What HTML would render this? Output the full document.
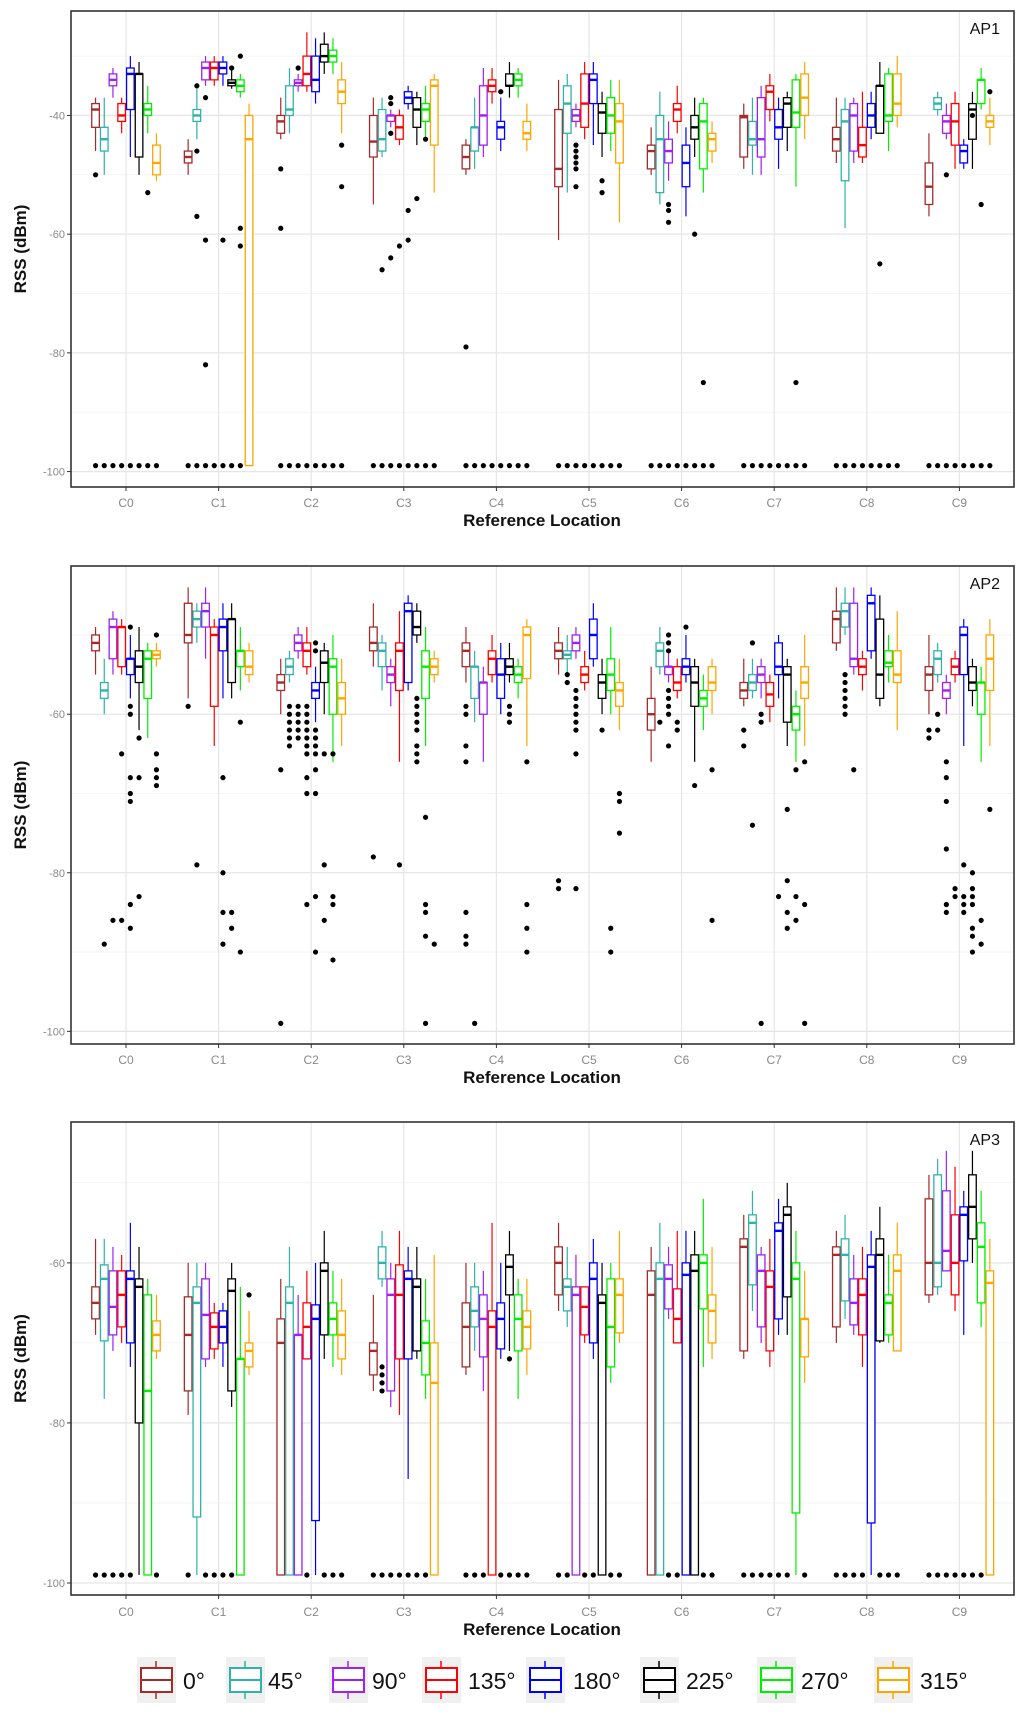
<!DOCTYPE html>
<html><head><meta charset="utf-8"><style>
html,body{margin:0;padding:0;background:#fff;}
svg{display:block;font-family:"Liberation Sans",sans-serif;}
</style></head><body>
<svg id="chart" width="1024" height="1712" viewBox="0 0 1024 1712" xmlns="http://www.w3.org/2000/svg"></svg>
<script>
const categories=["C0","C1","C2","C3","C4","C5","C6","C7","C8","C9"];
const angles=["0°","45°","90°","135°","180°","225°","270°","315°"];
const colors=["#a52a2a","#2fb3a8","#a020f0","#ff0000","#0000ff","#000000","#00ee00","#ffa500"];

// ---------- AP1 ----------
const ap1Hi=[[-37,-37,-32,-37,-30,-31,-35,-43],[-44,-35,-30,-30,-30,-32,-33,-38],[-37,-32,-33,-26,-27,-26,-27,-31],[-37,-37,-39,-39,-35,-36,-35,-33],[-44,-37,-32,-32,-37,-31,-32,-38],[-34,-33,-38,-31,-31,-36,-34,-34],[-42,-36,-41,-35,-42,-37,-37,-41],[-38,-37,-35,-33,-37,-36,-33,-31],[-37,-37,-37,-36,-36,-31,-32,-30],[-43,-36,-38,-36,-44,-36,-32,-37]];
const ap1Q3=[[-38,-42,-33,-38,-32,-33,-38,-45],[-46,-39,-31,-31,-31,-34,-34,-40],[-40,-35,-34,-30,-30,-28,-29,-34],[-40,-39,-40,-40,-36,-37,-38,-34],[-45,-42,-35,-34,-41,-33,-33,-41],[-39,-35,-39,-33,-33,-38,-37,-38],[-45,-40,-44,-38,-45,-40,-38,-43],[-40,-41,-37,-35,-39,-37,-34,-33],[-42,-39,-38,-42,-38,-35,-33,-33],[-48,-37,-40,-38,-45,-38,-34,-40]];
const ap1Med=[[-39,-44,-34,-40,-33,-33,-39,-48],[-47,-40,-32,-32,-32,-34.5,-35,-44],[-41,-39,-34.5,-33,-34,-30,-30,-36],[-44.4,-44,-40,-42,-37,-39,-39,-35],[-47,-42,-40,-35,-42,-35,-34,-43],[-49,-38,-40,-38,-34,-39.5,-40,-41],[-46,-44,-46,-39,-48,-42,-41,-44],[-40.3,-44,-44,-36,-42,-38,-39.5,-37],[-44,-41,-40,-45,-40,-35,-40,-38],[-52,-38,-41,-41,-46,-39,-34,-41]];
const ap1Q1=[[-42,-46,-35,-41,-39,-47,-40,-50],[-48,-41,-34,-34,-33,-35,-36,-99],[-43,-40,-35,-35,-36,-31,-31,-38],[-47,-46,-41,-44,-38,-42,-41,-45],[-49,-46,-45,-36,-44,-35,-35,-44],[-52,-43,-41,-42,-38,-43,-43,-48],[-49,-53,-48,-41,-52,-44,-49,-46],[-47,-45,-47,-39,-44,-42,-42,-40],[-46,-51,-46,-47,-42,-43,-41,-40],[-55,-39,-43,-45,-48,-44,-38,-42]];
const ap1Lo=[[-46,-50,-37,-43,-47,-50,-43,-51],[-50,-44,-35,-35,-35,-35.5,-37,-99],[-44,-43,-36,-36,-38,-33,-33,-43],[-55,-47,-42,-45,-39,-45,-44,-53],[-50,-49,-47,-38,-46,-37,-37,-46],[-61,-53,-42,-44,-45,-47,-46,-58],[-50,-55,-51,-43,-57,-47,-53,-48],[-49,-50,-50,-41,-49,-46,-52,-44],[-48,-59,-48,-48,-44,-43,-46,-42],[-57,-40,-44,-49,-49,-49,-39,-45]];
const ap1Out=[[[-50],[],[],[],[],[],[-53],[]],[[],[-35,-46,-57],[-37,-61,-82],[],[-61],[-32],[-30,-59,-62],[]],[[-49,-59],[],[-32],[],[],[],[],[-45,-52]],[[],[-66],[-37,-38,-43,-64],[-62],[-56,-61],[-54],[-44],[]],[[-79],[],[],[],[-36],[],[],[]],[[],[],[-45,-46,-47,-48,-49,-52],[],[],[-51,-53],[],[]],[[],[],[-55,-56,-58],[],[],[-60],[-85],[]],[[],[],[],[],[],[],[-85],[]],[[],[],[],[],[],[-65],[],[]],[[],[],[-50],[],[],[-40],[-55],[-36]]];
const ap1Floor=["11111111","11111110","11111111","11111111","11111111","11111111","11111111","11111111","11111111","11111111"];

// ---------- AP2 ----------
const ap2Hi=[[-49,-53,-47,-48,-50,-49,-51,-51],[-44,-46,-44,-48,-46,-46,-49,-51],[-53,-52,-49,-49,-54,-51,-50,-53],[-46,-50,-53,-47,-45,-46,-49,-52],[-49,-52,-54,-50,-51,-51,-53,-48],[-49,-50,-49,-52,-46,-53,-49,-53],[-54,-49,-52,-53,-50,-53,-55,-53],[-53,-53,-53,-55,-50,-53,-57,-50],[-44,-44,-44,-52,-44,-45,-50,-47],[-50,-51,-55,-52,-48,-53,-54,-48]];
const ap2Q3=[[-50,-56,-48,-49,-53,-52,-52,-52],[-46,-47,-46,-49,-48,-48,-52,-52],[-55,-53,-50,-51,-56,-52,-53,-56],[-49,-51,-54,-51,-46,-47,-52,-53],[-51,-54,-56,-52,-53,-53,-54,-49],[-51,-52,-50,-54,-48,-55,-53,-56],[-58,-51,-54,-54,-53,-54,-57,-54],[-56,-55,-54,-56,-51,-54,-59,-54],[-47,-46,-46,-53,-45,-48,-52,-52],[-54,-52,-56,-53,-49,-54,-56,-50]];
const ap2Med=[[-51,-57,-49,-49,-53,-54,-53,-52.5],[-50,-48,-47,-50,-49,-48,-52,-54],[-56,-54,-51,-52,-57,-53.5,-54,-58],[-51,-52,-55,-52,-47,-49,-54,-54],[-52,-54,-56,-53,-55,-54,-55,-50],[-52,-52.5,-51,-55,-50,-56,-55,-57],[-60,-52,-54,-56,-54,-56,-58,-56],[-57,-56,-55,-57.5,-54,-55,-60,-56],[-48,-47,-53,-54,-46,-55,-53.5,-55],[-55,-53,-57,-54,-50,-56,-56,-53]];
const ap2Q1=[[-52,-58,-53,-54,-55,-56,-58,-53],[-51,-49,-49,-59,-52,-56,-54,-55],[-57,-55,-52,-54,-58,-56,-60,-60],[-52,-54,-56,-57,-56,-50,-58,-55],[-54,-58,-60,-55,-58,-55,-56,-55.5],[-53,-53,-52,-56,-53,-58,-57,-59],[-62,-54,-55,-57,-55,-59,-59,-57],[-58,-57,-56,-59,-55,-61,-62,-58],[-51,-49,-54,-55,-52,-58,-54,-56],[-57,-55,-58,-55,-55,-57,-60,-57]];
const ap2Lo=[[-55,-60,-55,-55,-58,-62,-63,-54],[-58,-51,-53,-64,-58,-58,-57,-56],[-60,-56,-53,-55,-61,-60,-66,-64],[-54,-57,-59,-66,-57,-51,-64,-56],[-56,-61,-66,-56,-60,-56,-58,-64],[-55,-55,-53,-57,-54,-60,-60,-62],[-66,-55,-56,-58,-56,-66,-62,-60],[-59,-58,-58,-61,-58,-64,-66,-64],[-52,-50,-55,-57,-53,-59,-56,-62],[-60,-56,-60,-56,-64,-59,-66,-64]];
const ap2Out=[[[],[-89],[-86],[-65,-86],[-49,-59,-60,-68,-70,-71,-84,-87],[-63,-68,-83],[],[-50,-65,-67,-68,-69]],[[-59],[-79],[],[],[-68,-80,-85,-89],[-85,-87],[-61,-90],[]],[[-67,-99],[-59,-60,-61,-62,-63,-64],[-59,-60,-61,-62,-63],[-59,-60,-61,-62,-63,-64,-65,-68,-70,-84],[-51,-52,-62,-63,-64,-65,-67,-70,-83,-90],[-65,-79,-86],[-65,-83,-84,-91],[]],[[-78],[],[],[-79],[],[-58,-59,-60,-61,-62,-64,-65,-66],[-73,-84,-85,-88,-99],[-89]],[[-59,-60,-64,-66,-85,-88,-89],[-99],[],[],[],[-59,-60,-61],[],[-66,-84,-87,-90]],[[-81,-82],[-55,-56],[-57,-58,-59,-60,-61,-62,-65,-82],[],[],[-62],[-87,-90],[-70,-71,-75]],[[],[-61],[-50,-51,-52,-57,-58,-59,-60,-64],[-61,-62],[-49],[-69],[],[-67,-86]],[[-62,-64],[-51,-74],[-60,-61,-99],[],[-83],[-72,-81,-85,-87],[-67,-83,-86],[-66,-84,-99]],[[],[-55,-56,-57,-58,-59,-60],[-67],[],[],[],[],[]],[[-62,-63],[-60,-62],[-66,-68,-71,-77,-84,-85],[-82,-83],[-79,-83,-84,-85],[-80,-82,-83,-84,-87,-88,-90],[-86,-89],[-72]]];
const ap2Floor=["00000000","00000000","00000000","00000000","00000000","00000000","00000000","00000000","00000000","00000000"];

// ---------- AP3 ----------
const ap3Hi=[[-57,-57,-58,-59,-55,-58,-62,-64],[-60,-60,-60,-65,-65,-60,-63,-66],[-62,-58,-64,-61,-60,-56,-61,-62],[-64,-56,-60,-56,-58,-58,-62,-59],[-60,-60,-61,-55,-60,-56,-62,-62],[-55,-58,-59,-63,-57,-60,-60,-56],[-58,-55,-58,-56,-56,-56,-52,-58],[-54,-51,-58,-57,-52,-50,-56,-61],[-56,-54,-59,-58,-56,-53,-59,-55],[-49,-47,-46,-48,-51,-46,-51,-57]];
const ap3Q3=[[-63,-60.25,-61,-61,-61,-62,-64,-67.25],[-64.25,-63,-62,-66.25,-66,-62,-72,-70],[-67,-63,-69,-65,-65.25,-60,-65,-66],[-70,-58,-62,-60.25,-61,-62,-67.25,-70],[-65,-63,-64,-66,-65,-59,-64,-66],[-58,-62,-63,-63,-60,-64,-62,-62],[-61,-60,-60.25,-63.25,-60,-59,-59,-64],[-57,-54,-59,-61,-55,-53,-60,-67],[-58,-57,-62,-62,-59,-57,-64,-59],[-52,-49,-51,-54,-53,-49,-55,-61]];
const ap3Med=[[-65,-62,-65.5,-64,-62,-63,-76,-69],[-69,-65,-66.5,-68,-68,-63.5,-72,-71],[-70,-65,-69,-68,-67,-61,-67,-69],[-71,-60,-64,-64,-62,-63,-70,-75],[-68,-66,-67,-68,-67,-60.5,-67,-68],[-60,-63,-64,-65.5,-62,-65,-68,-64],[-64,-62,-62,-67,-61.5,-61,-60,-66],[-58,-55,-61,-63,-56,-54,-62,-67],[-59,-59,-65,-64,-60.5,-59,-65,-61],[-60,-60,-58.5,-60,-54,-53,-58,-62.5]];
const ap3Q1=[[-67,-69.75,-69,-68,-70,-80,-99,-71],[-76,-91.75,-72,-70.75,-70,-76,-99,-73],[-99,-99,-99,-72,-92.2,-69,-69,-72],[-74,-62,-76,-72,-72,-71,-74,-99],[-73,-68,-71.75,-99,-70.75,-64,-71,-70.75],[-64,-66,-99,-69,-70,-99,-73,-68.75],[-99,-99,-65.75,-70,-99,-99,-65.75,-70],[-71,-62.75,-68,-71,-67,-64.25,-91.25,-71.75],[-68,-64.75,-67.75,-69,-92.5,-69.75,-69,-71],[-64,-63,-61,-64,-59.75,-57,-65,-99]];
const ap3Lo=[[-69,-77,-71,-70,-73,-99,-99,-72],[-79,-99,-73,-72,-73,-78,-99,-74],[-99,-99,-99,-72,-99,-72,-73,-74],[-76,-63,-78,-79,-87,-72,-77,-99],[-74,-71,-76,-99,-72,-71,-77,-74],[-66,-68,-99,-70,-72,-99,-75,-70],[-99,-99,-67,-70,-99,-99,-73,-72],[-72,-66,-70,-73,-69,-69,-99,-75],[-70,-67,-69,-73,-99,-70,-70,-71],[-65,-64,-61,-66,-69,-60,-68,-99]];
const ap3Out=[[[],[],[],[],[],[],[],[]],[[],[],[],[],[],[],[],[-64]],[[],[],[],[],[],[],[],[]],[[],[-73,-74,-75,-76],[],[],[],[],[],[]],[[],[],[],[],[],[-72],[],[]],[[],[],[],[],[],[],[],[]],[[],[],[],[],[],[],[],[]],[[],[],[],[],[],[],[],[]],[[],[],[],[],[],[],[],[]],[[],[],[],[],[],[],[],[]]];
const ap3Floor=["11111001","10111100","00010111","11111110","11101111","11011011","00110011","11111101","11110111","11111110"];

const yTicks1=[-40,-60,-80,-100];
const yTicks23=[-60,-80,-100];

const svg=document.getElementById('chart');
const NS="http://www.w3.org/2000/svg";
function mk(tag,attrs,parent){const e=document.createElementNS(NS,tag);for(const k in attrs)e.setAttribute(k,attrs[k]);(parent||svg).appendChild(e);return e;}

const X0=71,X1=1014,C0X=126,STEP=92.6,DODGE=8.7,BW=7.6;
function xScale(i,j){return C0X+i*STEP+(j-3.5)*DODGE;}

const panels=[
 {name:"AP1",top:11,bottom:487,dmax:-22.4,dmin:-102.6,ticks:yTicks1,minor:[-30,-50,-70,-90],hi:ap1Hi,q3:ap1Q3,med:ap1Med,q1:ap1Q1,lo:ap1Lo,out:ap1Out,floor:ap1Floor,xl:503,xt:520},
 {name:"AP2",top:566,bottom:1044,dmax:-41.3,dmin:-101.6,ticks:yTicks23,minor:[-50,-70,-90],hi:ap2Hi,q3:ap2Q3,med:ap2Med,q1:ap2Q1,lo:ap2Lo,out:ap2Out,floor:ap2Floor,xl:1060,xt:1077},
 {name:"AP3",top:1122,bottom:1595,dmax:-42.4,dmin:-101.5,ticks:yTicks23,minor:[-50,-70,-90],hi:ap3Hi,q3:ap3Q3,med:ap3Med,q1:ap3Q1,lo:ap3Lo,out:ap3Out,floor:ap3Floor,xl:1612,xt:1629}
];

panels.forEach((p,pi)=>{
  const ys=v=>p.top+(p.dmax-v)/(p.dmax-p.dmin)*(p.bottom-p.top);
  const g=mk('g',{});
  
  
  mk('rect',{x:X0,y:p.top,width:X1-X0,height:p.bottom-p.top,fill:'#fff'},g);
  p.minor.forEach(v=>{mk('line',{x1:X0,x2:X1,y1:ys(v),y2:ys(v),stroke:'#f2f2f2','stroke-width':0.8},g);});
  p.ticks.forEach(v=>{
    mk('line',{x1:X0,x2:X1,y1:ys(v),y2:ys(v),stroke:'#e6e6e6','stroke-width':1.3},g);
    mk('line',{x1:X0-4,x2:X0,y1:ys(v),y2:ys(v),stroke:'#333','stroke-width':1},g);
    const t=mk('text',{x:X0-6,y:ys(v)+4,'text-anchor':'end','font-size':11,fill:'#888'},g);
    t.textContent=v;
    
    
  });
  categories.forEach((c,i)=>{
    const cx=C0X+i*STEP;
    mk('line',{x1:cx,x2:cx,y1:p.top,y2:p.bottom,stroke:'#e6e6e6','stroke-width':1.2},g);
    mk('line',{x1:cx,x2:cx,y1:p.bottom,y2:p.bottom+4,stroke:'#333','stroke-width':1},g);
    const t=mk('text',{x:cx,y:p.xl+4,'text-anchor':'middle','font-size':12,fill:'#888'},g);
    t.textContent=c;
    
    
  });
  categories.forEach((c,i)=>{
    angles.forEach((a,j)=>{
      const x=xScale(i,j),col=colors[j];
      const bg=mk('g',{},g);
      
      
      const hi=p.hi[i][j],q3=p.q3[i][j],md=p.med[i][j],q1=p.q1[i][j],lo=p.lo[i][j];
      mk('line',{x1:x,x2:x,y1:ys(hi),y2:ys(q3),stroke:col,'stroke-width':1.2},bg);
      mk('line',{x1:x,x2:x,y1:ys(q1),y2:ys(lo),stroke:col,'stroke-width':1.2},bg);
      mk('rect',{x:x-BW/2,y:ys(q3),width:BW,height:Math.max(0.5,ys(q1)-ys(q3)),fill:'#fff',stroke:col,'stroke-width':1.3},bg);
      mk('line',{x1:x-BW/2,x2:x+BW/2,y1:ys(md),y2:ys(md),stroke:col,'stroke-width':2.4},bg);
      const outs=p.out[i][j].slice();
      if(p.floor[i][j]==='1')outs.push(-99);
      outs.forEach(v=>{
        const d=mk('circle',{cx:x,cy:ys(v),r:2.6,fill:'#000'},bg);
        
        
      });
    });
  });
  mk('rect',{x:X0,y:p.top,width:X1-X0,height:p.bottom-p.top,fill:'none',stroke:'#333','stroke-width':1.6},g);
  const lab=mk('text',{x:1000,y:p.top+23,'text-anchor':'end','font-size':16,fill:'#111'},g);
  lab.textContent=p.name;
  
  
  const yt=mk('text',{x:0,y:0,'text-anchor':'middle','font-size':17,'font-weight':'bold',fill:'#111',transform:'translate(26,'+((p.top+p.bottom)/2)+') rotate(-90)'},g);
  yt.textContent='RSS (dBm)';
  
  
  const xt=mk('text',{x:542,y:p.xt+6,'text-anchor':'middle','font-size':17,'font-weight':'bold',fill:'#111'},g);
  xt.textContent='Reference Location';
  
  
});

const legKeyX=[137,226,329,422,526,640,757,874];
const legTextX=[183,268,372,468,573,686,801,920];
const lg=mk('g',{});


angles.forEach((a,j)=>{
  const e=mk('g',{},lg);
  
  
  const kx=legKeyX[j],cx=kx+19;
  mk('rect',{x:kx,y:1657,width:39,height:46,fill:'#f0f0f0'},e);
  mk('line',{x1:cx,x2:cx,y1:1661,y2:1699,stroke:colors[j],'stroke-width':1.5},e);
  mk('rect',{x:kx+4,y:1668,width:31,height:24,fill:'#fff',stroke:colors[j],'stroke-width':2},e);
  mk('line',{x1:kx+4,x2:kx+35,y1:1680,y2:1680,stroke:colors[j],'stroke-width':2},e);
  const t=mk('text',{x:legTextX[j],y:1689,'font-size':23,fill:'#111'},e);
  t.textContent=a;
});
</script>
</body></html>
